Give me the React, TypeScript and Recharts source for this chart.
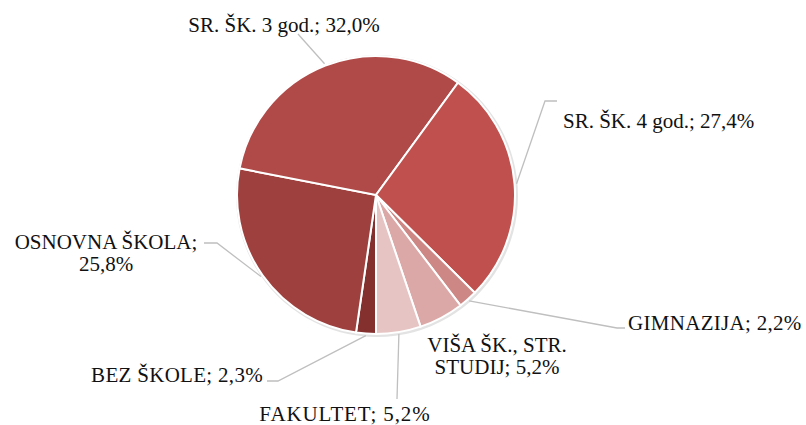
import React from 'react';
import { PieChart, Pie, Cell } from 'recharts';

const categories = ['BEZ ŠKOLE', 'OSNOVNA ŠKOLA', 'SR. ŠK. 3 god.', 'SR. ŠK. 4 god.', 'GIMNAZIJA', 'VIŠA ŠK., STR. STUDIJ', 'FAKULTET'];
const shares = [2.3, 25.8, 32.0, 27.4, 2.2, 5.2, 5.2];
const colors = ['#83302F', '#9D403E', '#AF4A48', '#C0504D', '#CD8886', '#DBA8A7', '#E6C4C4'];

const data = categories.map((name, i) => ({ name, value: shares[i] }));

type Layout = {
  x: number;
  baselines: number[];
  anchor: 'start' | 'middle' | 'end';
  path: [number, number][];
  breakAfter?: string;
  spacing?: number;
};

const labelLayout: Layout[] = [
  { x: 263, baselines: [382], anchor: 'end', path: [[278, 381], [267, 381]], spacing: 0.3 },
  { x: 106, baselines: [249, 271], anchor: 'middle', path: [[217, 243], [204, 243]], breakAfter: ';' },
  { x: 284, baselines: [32], anchor: 'middle', path: [[298, 34]] },
  { x: 563, baselines: [128], anchor: 'start', path: [[545, 101], [557, 101]] },
  { x: 628, baselines: [330], anchor: 'start', path: [[617, 328], [625, 328]], spacing: 0.3 },
  { x: 497, baselines: [352, 374], anchor: 'middle', path: [], breakAfter: 'STR.' },
  { x: 345, baselines: [421], anchor: 'middle', path: [[397, 399]], spacing: 0.9 },
];

const RAD = Math.PI / 180;
const fmt = (v: number) => v.toFixed(1).replace('.', ',') + '%';
const FONT = "'Liberation Serif', 'Times New Roman', 'DejaVu Serif', serif";

const renderLabel = (props: any) => {
  const { cx, cy, midAngle, outerRadius, index } = props;
  const lay = labelLayout[index];
  const full = `${categories[index]}; ${fmt(shares[index])}`;
  let lines = [full];
  if (lay.breakAfter) {
    const k = full.indexOf(lay.breakAfter) + lay.breakAfter.length;
    lines = [full.slice(0, k).trim(), full.slice(k).trim()];
  }
  const r = outerRadius + 2;
  const sx = cx + r * Math.cos(-midAngle * RAD);
  const sy = cy + r * Math.sin(-midAngle * RAD);
  const pts = lay.path.length ? [[sx, sy], ...lay.path] : [];
  return (
    <g key={`lbl-${index}`}>
      {pts.length > 0 && (
        <polyline
          points={pts.map((p) => p.join(',')).join(' ')}
          fill="none"
          stroke="#BFBFBF"
          strokeWidth={1.3}
        />
      )}
      {lines.map((t, j) => (
        <text
          key={j}
          x={lay.x}
          y={lay.baselines[j]}
          textAnchor={lay.anchor}
          style={{ fontFamily: FONT, fontSize: 21, letterSpacing: lay.spacing ?? 0 }}
          fill="#111"
        >
          {t}
        </text>
      ))}
    </g>
  );
};

export default function App() {
  return (
    <div style={{ position: 'absolute', left: 0, top: 0, width: 806, height: 425, background: '#fff' }}>
      <PieChart width={806} height={425} margin={{ top: 0, right: 0, bottom: 0, left: 0 }}>
        <Pie
          data={[{ name: 'shadow', value: 1 }]}
          dataKey="value"
          cx={377}
          cy={196}
          outerRadius={141}
          startAngle={90}
          endAngle={-270}
          fill="#E3E3E3"
          stroke="none"
          isAnimationActive={false}
          label={false}
          labelLine={false}
        />
        <Pie
          data={data}
          dataKey="value"
          nameKey="name"
          cx={376}
          cy={195}
          outerRadius={139}
          startAngle={-90}
          endAngle={-450}
          stroke="#FFFFFF"
          strokeWidth={2}
          isAnimationActive={false}
          labelLine={false}
          label={renderLabel}
        >
          {data.map((d, i) => (
            <Cell key={d.name} fill={colors[i]} />
          ))}
        </Pie>
      </PieChart>
    </div>
  );
}
